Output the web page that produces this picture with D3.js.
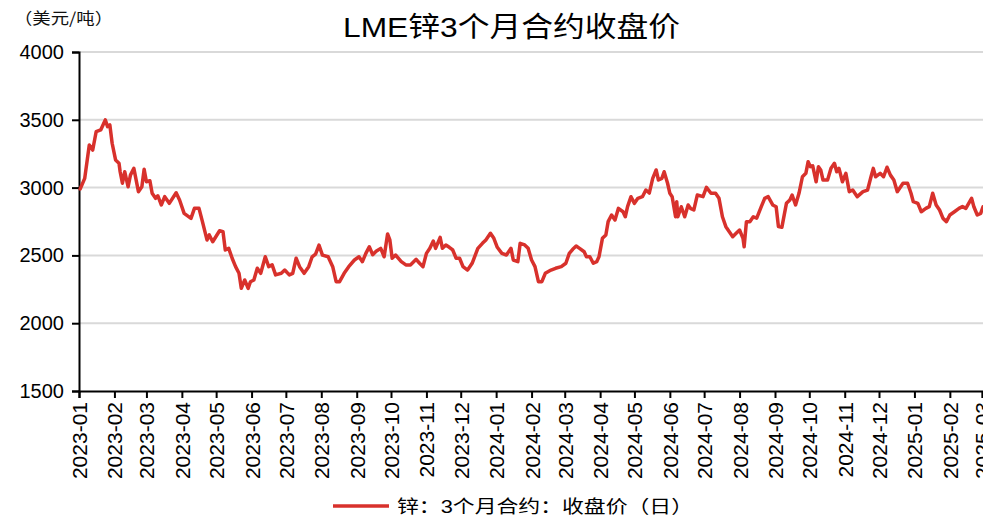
<!DOCTYPE html>
<html><head><meta charset="utf-8">
<script src="https://cdn.jsdelivr.net/npm/d3@7"></script>
<style>body{margin:0;background:#fff;}svg{display:block;}</style>
</head><body>
<svg id="c" width="983" height="516"></svg>
<script>
const title = "LME锌3个月合约收盘价";
const unitLabel = "（美元/吨）";
const seriesName = "锌：3个月合约：收盘价（日）";
const yTicks = [1500, 2000, 2500, 3000, 3500, 4000];
const dates = ["2023-01-02","2023-01-06","2023-01-10","2023-01-13","2023-01-16","2023-01-20","2023-01-24","2023-01-26","2023-01-28","2023-01-30",
"2023-02-02","2023-02-05","2023-02-06","2023-02-08","2023-02-10","2023-02-13","2023-02-15","2023-02-18","2023-02-22","2023-02-25","2023-02-27",
"2023-03-01","2023-03-04","2023-03-06","2023-03-09","2023-03-11","2023-03-14","2023-03-17","2023-03-21","2023-03-27","2023-03-30",
"2023-04-03","2023-04-09","2023-04-12","2023-04-16","2023-04-19","2023-04-23","2023-04-25","2023-04-28",
"2023-05-04","2023-05-07","2023-05-09","2023-05-12","2023-05-15","2023-05-18","2023-05-21","2023-05-23","2023-05-26","2023-05-29","2023-05-31",
"2023-06-03","2023-06-06","2023-06-09","2023-06-13","2023-06-16","2023-06-19","2023-06-22","2023-06-27","2023-06-30",
"2023-07-04","2023-07-07","2023-07-10","2023-07-13","2023-07-17","2023-07-21","2023-07-24","2023-07-27","2023-07-30",
"2023-08-02","2023-08-07","2023-08-11","2023-08-14","2023-08-17","2023-08-21","2023-08-25","2023-08-30",
"2023-09-03","2023-09-06","2023-09-09","2023-09-12","2023-09-15","2023-09-18","2023-09-22","2023-09-25","2023-09-28","2023-09-30",
"2023-10-02","2023-10-05","2023-10-10","2023-10-14","2023-10-18","2023-10-23","2023-10-26","2023-10-29",
"2023-11-01","2023-11-04","2023-11-07","2023-11-09","2023-11-13","2023-11-15","2023-11-18","2023-11-21","2023-11-24","2023-11-27","2023-11-30",
"2023-12-03","2023-12-07","2023-12-11","2023-12-16","2023-12-20","2023-12-23","2023-12-27","2023-12-30",
"2024-01-02","2024-01-06","2024-01-10","2024-01-14","2024-01-16","2024-01-20","2024-01-22","2024-01-26","2024-01-29",
"2024-02-01","2024-02-04","2024-02-07","2024-02-10","2024-02-13","2024-02-18","2024-02-22","2024-02-27",
"2024-03-02","2024-03-05","2024-03-08","2024-03-11","2024-03-14","2024-03-18","2024-03-20","2024-03-23","2024-03-26","2024-03-29","2024-03-31",
"2024-04-03","2024-04-06","2024-04-08","2024-04-11","2024-04-14","2024-04-17","2024-04-21","2024-04-23","2024-04-25","2024-04-28",
"2024-05-01","2024-05-04","2024-05-08","2024-05-11","2024-05-14","2024-05-17","2024-05-20","2024-05-22","2024-05-25","2024-05-27","2024-05-30",
"2024-06-01","2024-06-03","2024-06-06","2024-06-07","2024-06-08","2024-06-11","2024-06-14","2024-06-17","2024-06-19","2024-06-22","2024-06-25","2024-06-30",
"2024-07-03","2024-07-07","2024-07-11","2024-07-14","2024-07-17","2024-07-20","2024-07-23","2024-07-26","2024-07-29",
"2024-08-01","2024-08-04","2024-08-05","2024-08-07","2024-08-10","2024-08-13","2024-08-16","2024-08-20","2024-08-23","2024-08-26","2024-08-30",
"2024-09-02","2024-09-04","2024-09-07","2024-09-11","2024-09-14","2024-09-16","2024-09-19","2024-09-22","2024-09-25","2024-09-28","2024-09-30",
"2024-10-02","2024-10-04","2024-10-07","2024-10-09","2024-10-11","2024-10-13","2024-10-17","2024-10-20","2024-10-23","2024-10-25","2024-10-27","2024-10-30",
"2024-11-02","2024-11-05","2024-11-08","2024-11-12","2024-11-17","2024-11-21","2024-11-24","2024-11-26","2024-11-28",
"2024-12-02","2024-12-05","2024-12-08","2024-12-11","2024-12-14","2024-12-17","2024-12-22","2024-12-26","2024-12-29","2024-12-31",
"2025-01-04","2025-01-07","2025-01-11","2025-01-14","2025-01-17","2025-01-20","2025-01-23","2025-01-26","2025-01-29",
"2025-02-01","2025-02-05","2025-02-09","2025-02-12","2025-02-15","2025-02-20","2025-02-22","2025-02-25","2025-02-28","2025-03-02"];
const values = [2990,3068,3314,3277,3412,3425,3499,3450,3462,3327,
3204,3180,3117,3032,3117,3006,3092,3142,2970,3006,3135,
3043,3051,2958,2921,2940,2872,2933,2884,2962,2909,
2810,2773,2847,2847,2749,2614,2651,2601,
2682,2675,2540,2552,2479,2417,2368,2257,2319,2257,2306,
2319,2405,2368,2490,2417,2430,2356,2368,2392,
2356,2368,2479,2417,2368,2417,2490,2510,2576,
2502,2490,2417,2306,2306,2368,2417,2466,
2490,2454,2515,2564,2505,2530,2552,2490,2658,2614,
2479,2503,2454,2430,2430,2471,2442,2417,
2515,2552,2606,2552,2633,2552,2577,2560,2540,2479,2479,
2417,2392,2442,2552,2589,2614,2663,2626,
2560,2515,2503,2552,2466,2454,2589,2577,2552,
2466,2417,2306,2306,2368,2392,2405,2417,
2442,2515,2545,2569,2552,2527,2490,2490,2442,2454,2490,
2626,2651,2749,2798,2761,2847,2822,2785,2860,2933,
2884,2921,2933,2982,2960,3068,3130,3056,3068,3117,3032,
2958,2933,2785,2896,2785,2859,2785,2872,2847,2835,2945,2933,
3002,2958,2958,2921,2785,2712,2675,2638,2663,
2687,2626,2564,2749,2749,2785,2775,2859,2921,2933,2872,
2859,2712,2707,2884,2909,2945,2872,2958,3080,3105,3191,
3154,3160,3043,3154,3130,3056,3056,3142,3179,3117,3142,3043,
3105,2970,2982,2933,2970,2982,3080,3142,3080,
3105,3080,3150,3092,3056,2970,3032,3032,2958,2896,
2884,2822,2847,2860,2958,2872,2835,2773,2749,
2798,2822,2847,2860,2847,2921,2859,2798,2810,2859];

const parse = d3.utcParse("%Y-%m-%d");
const data = dates.map((d, i) => ({date: parse(d), value: values[i]}));

const svg = d3.select("#c");
const mLeft = 79, mRight = 983, mTop = 52, mBottom = 391;
const RED = "#d8312c";

const x = d3.scaleUtc().domain([parse("2023-01-01"), parse("2025-03-02")]).range([mLeft, mRight]);
const y = d3.scaleLinear().domain([1500, 4000]).range([mBottom, mTop]);

// gridlines
svg.append("g").selectAll("line").data(yTicks.filter(t => t > 1500)).join("line")
  .attr("x1", mLeft).attr("x2", mRight)
  .attr("y1", d => y(d)).attr("y2", d => y(d))
  .attr("stroke", "#d9d9d9").attr("stroke-width", 2);

// y axis
const yAxis = svg.append("g").attr("transform", `translate(${mLeft},0)`)
  .call(d3.axisLeft(y).tickValues(yTicks).tickSize(7).tickPadding(8).tickFormat(d3.format("d")));
yAxis.select(".domain").attr("stroke", "#000").attr("stroke-width", 2);
yAxis.selectAll(".tick line").attr("stroke", "#000").attr("stroke-width", 2);
yAxis.selectAll("text").attr("font-family", "Liberation Sans, Arial, sans-serif").attr("font-size", 20).attr("fill", "#000");

// x axis
const xAxis = svg.append("g").attr("transform", `translate(0,${mBottom})`)
  .call(d3.axisBottom(x).ticks(d3.utcMonth.every(1)).tickSize(7).tickPadding(10).tickFormat(d3.utcFormat("%Y-%m")));
xAxis.select(".domain").attr("stroke", "#000").attr("stroke-width", 2);
xAxis.selectAll(".tick line").attr("stroke", "#000").attr("stroke-width", 2);
xAxis.selectAll("text")
  .attr("font-family", "Liberation Sans, Arial, sans-serif").attr("font-size", 21).attr("fill", "#000")
  .attr("transform", "rotate(-90)")
  .attr("text-anchor", "end")
  .attr("x", -11).attr("y", 0).attr("dy", "0.36em");

// line
svg.append("path").datum(data)
  .attr("fill", "none").attr("stroke", RED).attr("stroke-width", 3.5)
  .attr("stroke-linejoin", "round").attr("stroke-linecap", "round")
  .attr("d", d3.line().x(d => x(d.date)).y(d => y(d.value)));

// title
svg.append("text").attr("x", 343).attr("y", 37)
  .attr("font-family", "Liberation Sans, 'Noto Sans CJK SC', sans-serif").attr("font-size", 28)
  .attr("textLength", 337).attr("lengthAdjust", "spacingAndGlyphs")
  .attr("fill", "#000").text(title);

// unit label
svg.append("text").attr("x", 14).attr("y", 24)
  .attr("font-family", "'Noto Sans CJK SC', sans-serif").attr("font-size", 16)
  .attr("textLength", 99).attr("lengthAdjust", "spacingAndGlyphs")
  .attr("fill", "#111").text(unitLabel);

// legend
const lg = svg.append("g");
lg.append("line").attr("x1", 333).attr("x2", 389).attr("y1", 506).attr("y2", 506)
  .attr("stroke", RED).attr("stroke-width", 3.5);
lg.append("text").attr("x", 397).attr("y", 507).attr("dominant-baseline", "central")
  .attr("font-family", "Liberation Sans, 'Noto Sans CJK SC', sans-serif").attr("font-size", 18)
  .attr("textLength", 296).attr("lengthAdjust", "spacingAndGlyphs")
  .attr("fill", "#000").text(seriesName);
</script>
</body></html>
